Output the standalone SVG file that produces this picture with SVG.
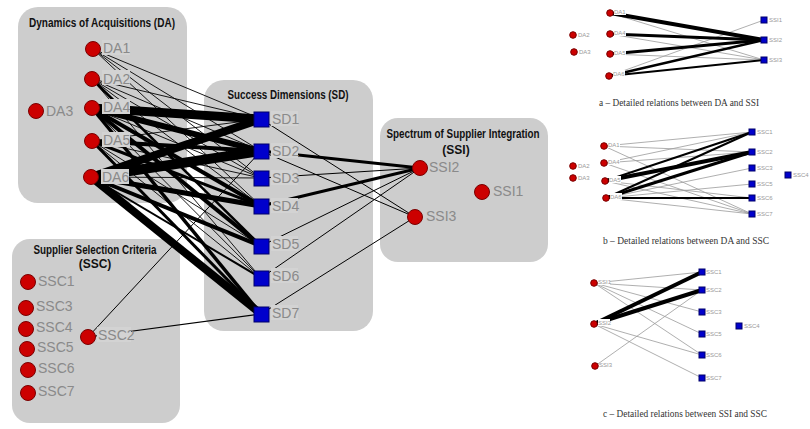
<svg xmlns="http://www.w3.org/2000/svg" width="810" height="429" viewBox="0 0 810 429">
<defs>
<style>
.box{fill:#cdcdcd;}
.ttl{font-family:"Liberation Sans",Arial,sans-serif;font-weight:bold;font-size:12px;fill:#111;text-anchor:middle;}
.lbl{font-family:"Liberation Sans",Arial,sans-serif;font-size:14px;fill:#8a8a8a;}
.lbg{fill:#d3d3d3;}
.rn{fill:#cc0000;stroke:#7a0000;stroke-width:1;}
.bn{fill:#0000cc;stroke:#00006a;stroke-width:1;}
.e{stroke:#000;fill:none;stroke-linecap:butt;}
.g{stroke:#9a9a9a;fill:none;stroke-width:0.8;}
.k{stroke:#000;fill:none;}
.sl{font-family:"Liberation Sans",Arial,sans-serif;font-size:6px;fill:#999;}
.sbg{fill:#fff;}
.cap{font-family:"Liberation Serif","Times New Roman",serif;font-size:10px;fill:#333;text-anchor:middle;}
</style>
</defs>
<rect width="810" height="429" fill="#fff"/>

<g id="group-boxes">
<rect id="box-DA" class="box" x="18" y="7" width="169" height="196" rx="20"/>
<rect id="box-SD" class="box" x="204" y="80" width="169" height="251" rx="20"/>
<rect id="box-SSI" class="box" x="380" y="118" width="168" height="144" rx="18"/>
<rect id="box-SSC" class="box" x="12" y="239" width="168" height="184" rx="18"/>
<text class="ttl" x="102" y="27" textLength="146" lengthAdjust="spacingAndGlyphs">Dynamics of Acquisitions (DA)</text>
<text class="ttl" x="288" y="99" textLength="121" lengthAdjust="spacingAndGlyphs">Success Dimensions (SD)</text>
<text class="ttl" x="463" y="138" textLength="153" lengthAdjust="spacingAndGlyphs">Spectrum of Supplier Integration</text>
<text class="ttl" x="456" y="154">(SSI)</text>
<text class="ttl" x="95" y="254" textLength="123" lengthAdjust="spacingAndGlyphs">Supplier Selection Criteria</text>
<text class="ttl" x="95" y="268">(SSC)</text>
</g>

<g id="connectors">
<g class="e" stroke-width="0.9">
<line x1="93" y1="49" x2="261" y2="119"/>
<line x1="93" y1="49" x2="261" y2="151"/>
<line x1="93" y1="49" x2="261" y2="178"/>
<line x1="93" y1="49" x2="261" y2="206"/>
<line x1="92" y1="79" x2="261" y2="119"/>
<line x1="92" y1="79" x2="261" y2="151"/>
<line x1="92" y1="79" x2="261" y2="178"/>
<line x1="92" y1="79" x2="261" y2="206"/>
<line x1="92" y1="79" x2="261" y2="278"/>
<line x1="92" y1="108" x2="261" y2="178"/>
<line x1="92" y1="141" x2="261" y2="119"/>
<line x1="92" y1="141" x2="261" y2="178"/>
<line x1="92" y1="141" x2="261" y2="246"/>
<line x1="92" y1="141" x2="261" y2="278"/>
<line x1="91" y1="177" x2="261" y2="178"/>
<line x1="92" y1="108" x2="261" y2="278"/>
</g>
<line class="e" x1="92" y1="79" x2="261" y2="246" stroke-width="2.5"/>
<line class="e" x1="92" y1="108" x2="261" y2="119" stroke-width="9"/>
<line class="e" x1="92" y1="108" x2="261" y2="151" stroke-width="6"/>
<line class="e" x1="92" y1="108" x2="261" y2="206" stroke-width="4"/>
<line class="e" x1="92" y1="108" x2="261" y2="246" stroke-width="4"/>
<line class="e" x1="92" y1="108" x2="261" y2="314" stroke-width="3.5"/>
<line class="e" x1="92" y1="141" x2="261" y2="151" stroke-width="4"/>
<line class="e" x1="92" y1="141" x2="261" y2="206" stroke-width="3"/>
<line class="e" x1="92" y1="141" x2="261" y2="314" stroke-width="3"/>
<line class="e" x1="91" y1="177" x2="261" y2="119" stroke-width="8"/>
<line class="e" x1="91" y1="177" x2="261" y2="151" stroke-width="10"/>
<line class="e" x1="91" y1="177" x2="261" y2="206" stroke-width="5"/>
<line class="e" x1="91" y1="177" x2="261" y2="246" stroke-width="4"/>
<line class="e" x1="91" y1="177" x2="261" y2="278" stroke-width="2"/>
<line class="e" x1="91" y1="177" x2="261" y2="314" stroke-width="8"/>
<line class="e" x1="261" y1="151" x2="420" y2="168" stroke-width="3"/>
<line class="e" x1="261" y1="206" x2="420" y2="168" stroke-width="3"/>
<line class="e" x1="261" y1="178" x2="420" y2="168" stroke-width="1"/>
<line class="e" x1="261" y1="246" x2="420" y2="168" stroke-width="1"/>
<line class="e" x1="261" y1="278" x2="420" y2="168" stroke-width="1"/>
<line class="e" x1="261" y1="119" x2="415" y2="217" stroke-width="1"/>
<line class="e" x1="261" y1="151" x2="415" y2="217" stroke-width="1"/>
<line class="e" x1="261" y1="314" x2="415" y2="217" stroke-width="1"/>
<line class="e" x1="88" y1="337" x2="261" y2="314" stroke-width="1.2"/>
<line class="e" x1="88" y1="337" x2="261" y2="151" stroke-width="1"/>

<line class="g" x1="610" y1="13" x2="764" y2="60"/>
<line class="g" x1="610" y1="34" x2="764" y2="60"/>
<line class="g" x1="610" y1="54" x2="764" y2="60"/>
<line class="g" x1="609" y1="76" x2="764" y2="20"/>
<line class="k" x1="610" y1="13" x2="764" y2="40" stroke-width="4"/>
<line class="k" x1="610" y1="34" x2="764" y2="40" stroke-width="3"/>
<line class="k" x1="610" y1="54" x2="764" y2="40" stroke-width="3"/>
<line class="k" x1="609" y1="76" x2="764" y2="40" stroke-width="2.5"/>
<line class="k" x1="609" y1="76" x2="764" y2="60" stroke-width="1.8"/>

<line class="g" x1="604" y1="146" x2="752" y2="132"/>
<line class="g" x1="604" y1="146" x2="752" y2="152"/>
<line class="g" x1="604" y1="146" x2="752" y2="214"/>
<line class="g" x1="604" y1="163" x2="752" y2="132"/>
<line class="g" x1="604" y1="163" x2="752" y2="152"/>
<line class="g" x1="604" y1="163" x2="752" y2="214"/>
<line class="g" x1="605" y1="181" x2="752" y2="198"/>
<line class="g" x1="605" y1="181" x2="752" y2="214"/>
<line class="g" x1="606" y1="198" x2="752" y2="168"/>
<line class="g" x1="606" y1="198" x2="752" y2="184"/>
<line class="g" x1="606" y1="198" x2="752" y2="214"/>
<line class="k" x1="605" y1="181" x2="752" y2="132" stroke-width="2"/>
<line class="k" x1="605" y1="181" x2="752" y2="152" stroke-width="4"/>
<line class="k" x1="606" y1="198" x2="752" y2="132" stroke-width="2"/>
<line class="k" x1="606" y1="198" x2="752" y2="152" stroke-width="3"/>
<line class="k" x1="606" y1="198" x2="752" y2="198" stroke-width="2"/>

<line class="g" x1="594" y1="283" x2="702" y2="272"/>
<line class="g" x1="594" y1="283" x2="702" y2="290"/>
<line class="g" x1="594" y1="283" x2="702" y2="312"/>
<line class="g" x1="594" y1="283" x2="702" y2="334"/>
<line class="g" x1="594" y1="283" x2="702" y2="355"/>
<line class="g" x1="594" y1="324" x2="702" y2="355"/>
<line class="g" x1="594" y1="324" x2="702" y2="378"/>
<line class="g" x1="595" y1="366" x2="702" y2="290"/>
<line class="k" x1="594" y1="324" x2="702" y2="272" stroke-width="4"/>
<line class="k" x1="594" y1="324" x2="702" y2="290" stroke-width="4"/>
</g>

<g id="node-DA1"><circle class="rn" cx="93" cy="49" r="7.5"/><rect class="lbg" x="102" y="40" width="28" height="15"/><text class="lbl" x="103" y="53">DA1</text></g>
<g id="node-DA2"><circle class="rn" cx="92" cy="79" r="7.5"/><rect class="lbg" x="102" y="70" width="28" height="15"/><text class="lbl" x="103" y="84">DA2</text></g>
<g id="node-DA3"><circle class="rn" cx="36" cy="111" r="7.5"/><text class="lbl" x="46" y="116">DA3</text></g>
<g id="node-DA4"><circle class="rn" cx="92" cy="108" r="7.5"/><rect class="lbg" x="102" y="99" width="28" height="15"/><text class="lbl" x="103" y="112">DA4</text></g>
<g id="node-DA5"><circle class="rn" cx="92" cy="141" r="7.5"/><rect class="lbg" x="102" y="132" width="28" height="15"/><text class="lbl" x="103" y="145">DA5</text></g>
<g id="node-DA6"><circle class="rn" cx="91" cy="177" r="7.5"/><rect class="lbg" x="101" y="169" width="28" height="15"/><text class="lbl" x="102" y="182">DA6</text></g>

<g id="node-SD1"><rect class="bn" x="254" y="112" width="15" height="15"/><rect class="lbg" x="271" y="111" width="27" height="15"/><text class="lbl" x="272" y="124">SD1</text></g>
<g id="node-SD2"><rect class="bn" x="254" y="144" width="15" height="15"/><rect class="lbg" x="271" y="143" width="27" height="15"/><text class="lbl" x="272" y="156">SD2</text></g>
<g id="node-SD3"><rect class="bn" x="254" y="171" width="15" height="15"/><rect class="lbg" x="271" y="170" width="27" height="15"/><text class="lbl" x="272" y="183">SD3</text></g>
<g id="node-SD4"><rect class="bn" x="254" y="199" width="15" height="15"/><rect class="lbg" x="271" y="198" width="27" height="15"/><text class="lbl" x="272" y="211">SD4</text></g>
<g id="node-SD5"><rect class="bn" x="254" y="239" width="15" height="15"/><rect class="lbg" x="271" y="236" width="27" height="15"/><text class="lbl" x="272" y="249">SD5</text></g>
<g id="node-SD6"><rect class="bn" x="254" y="271" width="15" height="15"/><rect class="lbg" x="271" y="268" width="27" height="15"/><text class="lbl" x="272" y="281">SD6</text></g>
<g id="node-SD7"><rect class="bn" x="254" y="307" width="15" height="15"/><rect class="lbg" x="271" y="305" width="27" height="15"/><text class="lbl" x="272" y="318">SD7</text></g>

<g id="node-SSI1"><circle class="rn" cx="482" cy="192" r="7.5"/><text class="lbl" x="493" y="196">SSI1</text></g>
<g id="node-SSI2"><circle class="rn" cx="420" cy="168" r="7.5"/><text class="lbl" x="429" y="172">SSI2</text></g>
<g id="node-SSI3"><circle class="rn" cx="415" cy="217" r="7.5"/><text class="lbl" x="426" y="221">SSI3</text></g>

<g id="node-SSC1"><circle class="rn" cx="28" cy="282" r="7.5"/><text class="lbl" x="38" y="286">SSC1</text></g>
<g id="node-SSC2"><circle class="rn" cx="88" cy="337" r="7.5"/><rect class="lbg" x="97" y="327" width="34" height="15"/><text class="lbl" x="98" y="340">SSC2</text></g>
<g id="node-SSC3"><circle class="rn" cx="26" cy="308" r="7.5"/><text class="lbl" x="36" y="311">SSC3</text></g>
<g id="node-SSC4"><circle class="rn" cx="26" cy="329" r="7.5"/><text class="lbl" x="36" y="332">SSC4</text></g>
<g id="node-SSC5"><circle class="rn" cx="27" cy="349" r="7.5"/><text class="lbl" x="37" y="352">SSC5</text></g>
<g id="node-SSC6"><circle class="rn" cx="28" cy="370" r="7.5"/><text class="lbl" x="38" y="373">SSC6</text></g>
<g id="node-SSC7"><circle class="rn" cx="28" cy="393" r="7.5"/><text class="lbl" x="38" y="396">SSC7</text></g>

<g id="a-DA1"><circle class="rn" cx="610" cy="13" r="3.3"/><rect class="sbg" x="614" y="8" width="12" height="7"/><text class="sl" x="614" y="14">DA1</text></g>
<g id="a-DA4"><circle class="rn" cx="610" cy="34" r="3.3"/><rect class="sbg" x="614" y="29" width="12" height="7"/><text class="sl" x="614" y="35">DA4</text></g>
<g id="a-DA5"><circle class="rn" cx="610" cy="54" r="3.3"/><rect class="sbg" x="614" y="49" width="12" height="7"/><text class="sl" x="614" y="55">DA5</text></g>
<g id="a-DA6"><circle class="rn" cx="609" cy="76" r="3.3"/><rect class="sbg" x="613" y="70" width="12" height="7"/><text class="sl" x="613" y="76">DA6</text></g>
<g id="a-DA2"><circle class="rn" cx="573" cy="35" r="3.3"/><text class="sl" x="578" y="37">DA2</text></g>
<g id="a-DA3"><circle class="rn" cx="574" cy="52" r="3.3"/><text class="sl" x="579" y="54">DA3</text></g>
<g id="a-SSI1"><rect class="bn" x="761" y="17" width="6" height="6"/><text class="sl" x="769" y="22">SSI1</text></g>
<g id="a-SSI2"><rect class="bn" x="761" y="37" width="6" height="6"/><text class="sl" x="769" y="42">SSI2</text></g>
<g id="a-SSI3"><rect class="bn" x="761" y="57" width="6" height="6"/><text class="sl" x="769" y="62">SSI3</text></g>
<text class="cap" x="679" y="106" textLength="160" lengthAdjust="spacingAndGlyphs">a – Detailed relations between DA and SSI</text>

<g id="b-DA1"><circle class="rn" cx="604" cy="146" r="3.3"/><rect class="sbg" x="608" y="141" width="12" height="7"/><text class="sl" x="608" y="147">DA1</text></g>
<g id="b-DA4"><circle class="rn" cx="604" cy="163" r="3.3"/><rect class="sbg" x="608" y="158" width="12" height="7"/><text class="sl" x="608" y="164">DA4</text></g>
<g id="b-DA5"><circle class="rn" cx="605" cy="181" r="3.3"/><rect class="sbg" x="609" y="176" width="12" height="7"/><text class="sl" x="609" y="182">DA5</text></g>
<g id="b-DA6"><circle class="rn" cx="606" cy="198" r="3.3"/><rect class="sbg" x="610" y="193" width="12" height="7"/><text class="sl" x="610" y="199">DA6</text></g>
<g id="b-DA2"><circle class="rn" cx="573" cy="166" r="3.3"/><text class="sl" x="578" y="168">DA2</text></g>
<g id="b-DA3"><circle class="rn" cx="573" cy="178" r="3.3"/><text class="sl" x="578" y="180">DA3</text></g>
<g id="b-SSC1"><rect class="bn" x="749" y="129" width="6" height="6"/><text class="sl" x="757" y="134">SSC1</text></g>
<g id="b-SSC2"><rect class="bn" x="749" y="149" width="6" height="6"/><text class="sl" x="757" y="154">SSC2</text></g>
<g id="b-SSC3"><rect class="bn" x="749" y="165" width="6" height="6"/><text class="sl" x="757" y="170">SSC3</text></g>
<g id="b-SSC5"><rect class="bn" x="749" y="181" width="6" height="6"/><text class="sl" x="757" y="186">SSC5</text></g>
<g id="b-SSC6"><rect class="bn" x="749" y="195" width="6" height="6"/><text class="sl" x="757" y="200">SSC6</text></g>
<g id="b-SSC7"><rect class="bn" x="749" y="211" width="6" height="6"/><text class="sl" x="757" y="216">SSC7</text></g>
<g id="b-SSC4"><rect class="bn" x="785" y="172" width="6" height="6"/><text class="sl" x="793" y="177">SSC4</text></g>
<text class="cap" x="686" y="244" textLength="166" lengthAdjust="spacingAndGlyphs">b – Detailed relations between DA and SSC</text>

<g id="c-SSI1"><circle class="rn" cx="594" cy="283" r="3.3"/><rect class="sbg" x="598" y="278" width="12" height="7"/><text class="sl" x="598" y="284">SSI1</text></g>
<g id="c-SSI2"><circle class="rn" cx="594" cy="324" r="3.3"/><rect class="sbg" x="598" y="319" width="12" height="7"/><text class="sl" x="598" y="325">SSI2</text></g>
<g id="c-SSI3"><circle class="rn" cx="595" cy="366" r="3.3"/><text class="sl" x="599" y="367">SSI3</text></g>
<g id="c-SSC1"><rect class="bn" x="699" y="269" width="6" height="6"/><text class="sl" x="706" y="274">SSC1</text></g>
<g id="c-SSC2"><rect class="bn" x="699" y="287" width="6" height="6"/><text class="sl" x="706" y="292">SSC2</text></g>
<g id="c-SSC3"><rect class="bn" x="699" y="309" width="6" height="6"/><text class="sl" x="706" y="314">SSC3</text></g>
<g id="c-SSC5"><rect class="bn" x="699" y="331" width="6" height="6"/><text class="sl" x="706" y="336">SSC5</text></g>
<g id="c-SSC6"><rect class="bn" x="699" y="352" width="6" height="6"/><text class="sl" x="706" y="357">SSC6</text></g>
<g id="c-SSC7"><rect class="bn" x="699" y="375" width="6" height="6"/><text class="sl" x="706" y="380">SSC7</text></g>
<g id="c-SSC4"><rect class="bn" x="736" y="323" width="6" height="6"/><text class="sl" x="744" y="328">SSC4</text></g>
<text class="cap" x="685" y="417" textLength="164" lengthAdjust="spacingAndGlyphs">c – Detailed relations between SSI and SSC</text>
</svg>
